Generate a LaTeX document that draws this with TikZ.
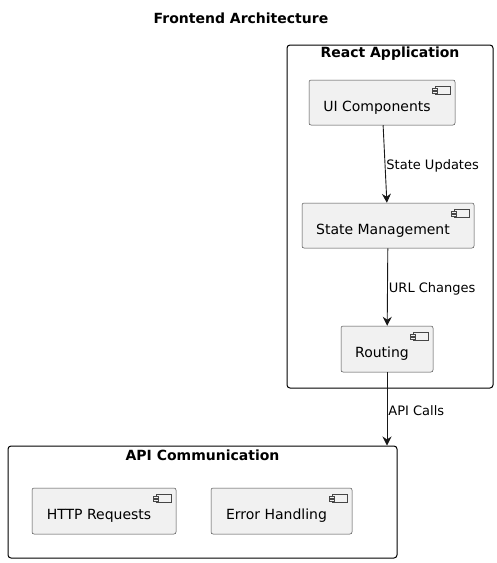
\documentclass[tikz,border=0pt]{standalone}
\usepackage{fontspec}
\setmainfont{DejaVu Sans}
\usetikzlibrary{arrows.meta}
\definecolor{compfill}{HTML}{F1F1F1}
\definecolor{compline}{HTML}{181818}
\begin{document}
\begin{tikzpicture}
		[	x=1pt,y=-1pt,
		comp/.style={rectangle,draw=compline!80,line width=.5pt,fill=compfill,rounded corners=2pt,
			font=\fontsize{14}{16}\selectfont,inner sep=0pt,text height=18.6pt,text depth=1pt,
			execute at end node={\hspace*{10pt}}},
		pkg/.style={rectangle,draw=black,line width=1pt,rounded corners=3pt,inner sep=0pt},
		pkgtitle/.style={font=\fontsize{14}{16}\selectfont\bfseries,inner sep=0pt},
		icon/.style={draw=compline!80,line width=.4pt,fill=compfill},
		lbl/.style={font=\fontsize{13}{15}\selectfont,inner sep=1pt,anchor=west,yshift=-1.5pt},
		arr/.style={-{Stealth[length=9pt,width=9pt,inset=3pt]},line width=.9pt,draw=compline}
		]
		\useasboundingbox (0,0) rectangle (497,563);
		\node[pkgtitle] (title) at (241,18){Frontend Architecture};

		\node[pkg,minimum width=206pt,minimum height=343pt] (react) at (390,216.5){};
		\node[pkgtitle] (reacttitle) at (390,54){React Application};
		\node[pkg,minimum width=389pt,minimum height=112pt] (api) at (202.5,502){};
		\node[pkgtitle] (apititle) at (202.5,455){API Communication};

		\node[comp,minimum width=146pt,minimum height=45pt] (ui) at (382,102.5){UI Components};
		\node[comp,minimum width=172pt,minimum height=45pt] (state) at (388,225.5){State Management};
		\node[comp,minimum width=92pt,minimum height=46pt] (route) at (387,349){Routing};
		\node[comp,minimum width=144pt,minimum height=46pt] (http) at (104,511){HTTP Requests};
		\node[comp,minimum width=141pt,minimum height=46pt] (err) at (281.5,511){Error Handling};

		% component icons
		\foreach \c in {ui,state,route,http,err}{
			\begin{scope}[shift={(\c.north east)}]
				\draw[icon] (-20,6) rectangle (-5,14);
				\draw[icon] (-23,8) rectangle (-18,10);
				\draw[icon] (-23,11) rectangle (-18,13);
			\end{scope}
		}

		\draw[arr] (ui) -- node[lbl]{State Updates} (state);
		\draw[arr] (state) -- node[lbl]{URL Changes} (route);
		\draw[arr] (route) -- node[lbl]{API Calls} (route.south |- api.north);
	\end{tikzpicture}
\end{document}
